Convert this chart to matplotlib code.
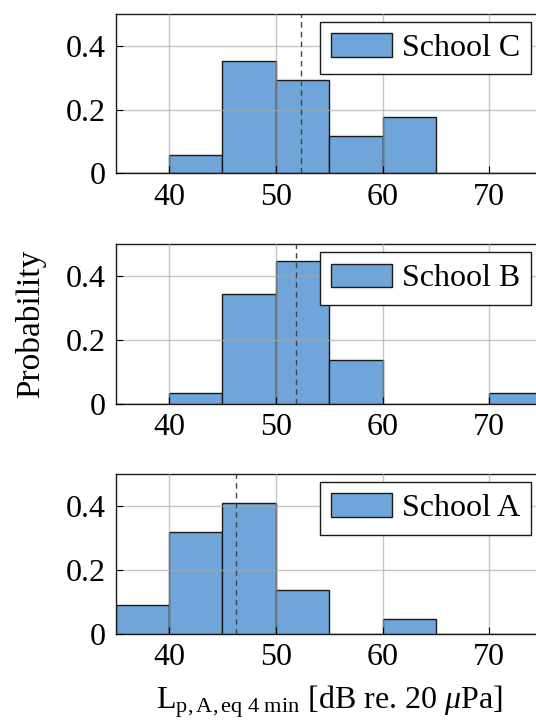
import matplotlib
matplotlib.use('Agg')
import matplotlib.pyplot as plt

# Datos (probabilidad por intervalo de 5 dB)
bin_edges = [35, 40, 45, 50, 55, 60, 65, 70, 75]
schools = ['School C', 'School B', 'School A']
prob_c = [0.0, 0.0588, 0.3529, 0.2941, 0.1176, 0.1765, 0.0, 0.0]
prob_b = [0.0, 0.0345, 0.3448, 0.4483, 0.1379, 0.0, 0.0, 0.0345]
prob_a = [0.0909, 0.3182, 0.4091, 0.1364, 0.0, 0.0455, 0.0, 0.0]
means = [52.37, 51.88, 46.28]
x_ticks = [40, 50, 60, 70]
y_ticks = [0, 0.2, 0.4]

plt.rcParams['font.family'] = 'Liberation Serif'
plt.rcParams['mathtext.fontset'] = 'custom'
plt.rcParams['mathtext.rm'] = 'Liberation Serif'
plt.rcParams['mathtext.it'] = 'Liberation Serif:italic'
plt.rcParams['font.size'] = 23

fig = plt.figure(figsize=(5.36, 7.2), dpi=100)
bottoms = [0.7593, 0.4393, 0.1199]
probs = [prob_c, prob_b, prob_a]

for name, p, m, b in zip(schools, probs, means, bottoms):
    ax = fig.add_axes([0.2159, b, 0.7966, 0.2213])
    lefts = bin_edges[:-1]
    widths = [bin_edges[k + 1] - bin_edges[k] for k in range(len(lefts))]
    ax.bar(lefts, p, width=widths, align='edge', color='#6fa5d9',
           edgecolor='#1a1a1a', linewidth=1.0, label=name, zorder=1)
    ax.axvline(m, color='#444444', linestyle=(0, (4, 3)), linewidth=1.0, zorder=3)
    ax.set_xlim(35, 75)
    ax.set_ylim(0, 0.5)
    ax.set_xticks(x_ticks)
    ax.set_yticks(y_ticks)
    ax.set_yticklabels(['0', '0.2', '0.4'])
    ax.grid(True, color='#a8a8a8', linewidth=1.0, alpha=0.65, zorder=2)
    ax.set_axisbelow(False)
    ax.tick_params(direction='in', length=5, width=0.8, pad=7)
    for s in ax.spines.values():
        s.set_linewidth(1.0)
        s.set_color('#1a1a1a')
    leg = ax.legend(loc='upper right', fancybox=False, framealpha=1,
                    edgecolor='#1a1a1a', handlelength=1.9, handleheight=0.75,
                    borderpad=0.35, handletextpad=0.3, borderaxespad=0.2,
                    bbox_to_anchor=(0.9875, 0.99))
    leg.get_frame().set_linewidth(1.0)
    if name == 'School B':
        ax.set_ylabel('Probability', labelpad=14, fontsize=24)
    if name == 'School A':
        ax.set_xlabel(r'L$_{\mathrm{p,A,eq\ 4\ min}}$ [dB re. 20 $\mu$Pa]', labelpad=8)

fig.savefig('out.png', dpi=100)
